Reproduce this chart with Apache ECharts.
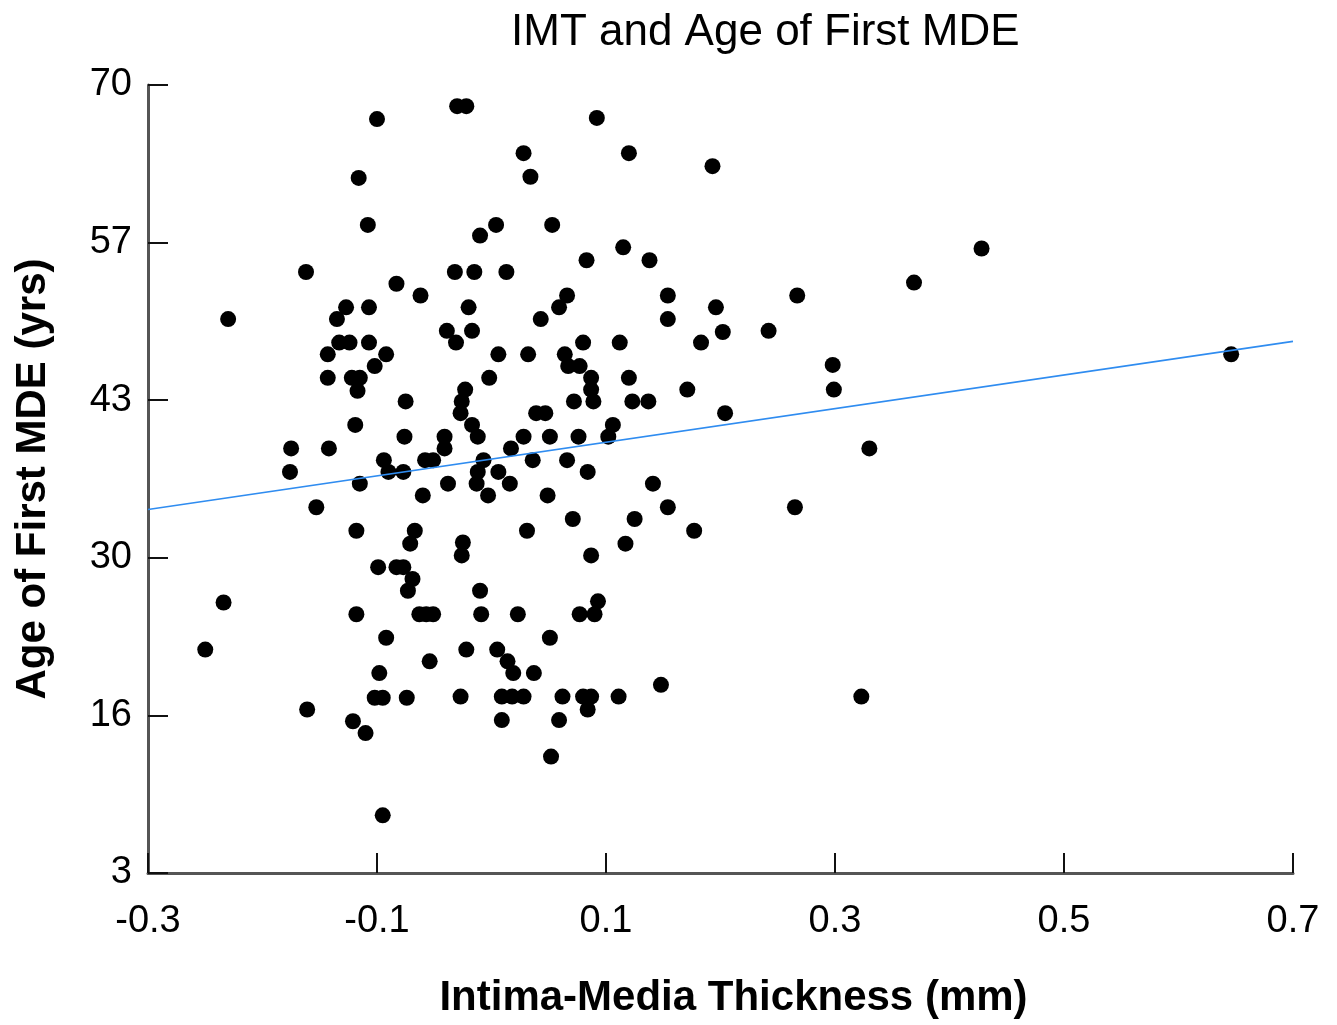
<!DOCTYPE html>
<html>
<head>
<meta charset="utf-8">
<title>IMT and Age of First MDE</title>
<script src="https://cdn.jsdelivr.net/npm/echarts@6/dist/echarts.min.js"></script>
<style>
  html, body { margin: 0; padding: 0; background: #fff; }
  #chart { width: 1337px; height: 1025px; }
</style>
</head>
<body>
<div id="chart"></div>
<script>
// IMT (mm) per subject
var imtX = [
  -0.100, -0.116, -0.108, -0.162, -0.083, -0.062, -0.127, -0.107, -0.230, -0.135,
  -0.030, -0.022, 0.092, 0.028, 0.120, 0.193, 0.034, 0.004, -0.010, 0.053,
  0.083, 0.115, 0.138, -0.032, -0.015, 0.013, 0.066, 0.059, 0.154, -0.020,
  0.043, 0.154, 0.196, -0.133, -0.124, -0.107, -0.143, -0.092, -0.102, -0.143,
  -0.122, -0.115, -0.117, -0.075, -0.119, -0.076, -0.175, -0.142, -0.094, -0.090,
  -0.077, -0.058, -0.051, -0.176, -0.115, -0.060, -0.153, -0.118, -0.067, -0.071,
  -0.099, -0.083, -0.077, -0.069, -0.039, -0.017, 0.202, -0.031, 0.080, 0.112,
  0.183, 0.006, 0.032, 0.064, 0.067, 0.077, -0.002, 0.087, 0.120, -0.023,
  0.087, 0.171, -0.026, 0.072, 0.089, 0.123, 0.137, -0.027, 0.039, 0.047,
  0.204, -0.017, 0.106, -0.041, -0.041, -0.012, 0.028, 0.051, 0.076, 0.102,
  0.017, -0.007, 0.036, 0.066, -0.012, 0.006, 0.084, -0.038, -0.013, 0.016,
  0.141, -0.003, 0.049, 0.154, 0.071, 0.125, 0.177, 0.031, 0.117, -0.025,
  -0.026, 0.087, -0.234, -0.250, -0.161, -0.095, -0.073, -0.118, -0.063, -0.057,
  -0.051, -0.092, -0.054, -0.098, -0.102, -0.095, -0.074, -0.121, -0.110, -0.010,
  -0.009, 0.023, 0.093, 0.090, 0.077, 0.051, -0.022, 0.005, 0.014, 0.019,
  0.037, -0.027, 0.009, 0.018, 0.028, 0.062, 0.080, 0.087, 0.084, 0.111,
  0.148, 0.009, 0.059, 0.052, 0.428, 0.369, 0.267, 0.242, 0.646, 0.298,
  0.299, 0.330, 0.265, 0.323
];
// age of first MDE (yrs), same order
var ageY = [
  67.1, 62.1, 58.1, 54.1, 53.1, 52.1, 51.1, 51.1, 50.1, 50.1,
  68.2, 68.2, 67.2, 64.2, 64.2, 63.1, 62.2, 58.1, 57.2, 58.1,
  55.1, 56.2, 55.1, 54.1, 54.1, 54.1, 52.1, 51.1, 52.1, 51.1,
  50.1, 50.1, 51.1, 48.1, 48.1, 48.1, 47.1, 47.1, 46.1, 45.1,
  45.1, 45.1, 44.0, 43.1, 41.1, 40.1, 39.1, 39.1, 38.1, 37.1,
  37.1, 38.1, 38.1, 37.1, 36.1, 35.1, 34.1, 32.1, 32.1, 31.0,
  29.0, 29.0, 29.0, 28.0, 49.1, 49.1, 49.0, 48.1, 48.1, 48.1,
  48.1, 47.1, 47.1, 47.1, 46.1, 46.1, 45.1, 45.1, 45.1, 44.1,
  44.1, 44.1, 43.1, 43.1, 43.1, 43.1, 43.1, 42.1, 42.1, 42.1,
  42.1, 41.1, 41.1, 40.1, 39.1, 40.1, 40.1, 40.1, 40.1, 40.1,
  39.1, 38.1, 38.1, 38.1, 37.1, 37.1, 37.1, 36.1, 36.1, 36.1,
  36.1, 35.1, 35.1, 34.1, 33.1, 33.1, 32.1, 32.1, 31.0, 31.1,
  30.0, 30.0, 26.0, 22.0, 16.9, 7.9, 27.0, 25.0, 25.0, 25.0,
  25.0, 23.0, 21.0, 20.0, 17.9, 17.9, 17.9, 15.9, 14.9, 27.0,
  25.0, 25.0, 26.1, 25.0, 25.0, 23.0, 22.0, 22.0, 21.0, 20.0,
  20.0, 18.0, 18.0, 18.0, 18.0, 18.0, 18.0, 18.0, 16.9, 18.0,
  19.0, 16.0, 16.0, 12.9, 56.1, 53.2, 52.1, 49.1, 47.1, 46.2,
  44.1, 39.1, 34.1, 18.0
];
// fitted regression line, end points
var fitX = [-0.3, 0.7];
var fitY = [33.9, 48.2];

var xTicks = [-0.3, -0.1, 0.1, 0.3, 0.5, 0.7];
var yTicks = [3, 16.4, 29.8, 43.2, 56.6, 70];
var yTickLabels = ['3', '16', '30', '43', '57', '70'];

var points = [];
for (var i = 0; i < imtX.length; i++) {
  points.push([imtX[i], ageY[i]]);
}
var fitLine = [];
for (var j = 0; j < fitX.length; j++) {
  fitLine.push([fitX[j], fitY[j]]);
}

var font = 'Liberation Sans, Arial, sans-serif';
var chart = echarts.init(document.getElementById('chart'));

var option = {
  backgroundColor: '#fff',
  animation: false,
  title: {
    text: 'IMT and Age of First MDE',
    left: 506,
    top: 6,
    textStyle: { fontFamily: font, fontSize: 44, fontWeight: 'normal', color: '#000' }
  },
  grid: { left: 148, right: 44, top: 85, bottom: 152 },
  xAxis: {
    type: 'value',
    min: -0.3,
    max: 0.7,
    name: 'Intima-Media Thickness (mm)',
    nameLocation: 'middle',
    nameGap: 104,
    nameTextStyle: { fontFamily: font, fontSize: 42, fontWeight: 'bold', color: '#000', padding: [0, 0, 0, 26] },
    axisLine: { onZero: false, lineStyle: { color: '#555', width: 3 } },
    axisTick: { inside: true, length: 20, customValues: xTicks, lineStyle: { color: '#111', width: 2 } },
    axisLabel: {
      customValues: xTicks,
      margin: 30,
      fontFamily: font,
      fontSize: 38,
      color: '#000',
      formatter: function (v) { return v.toFixed(1); }
    },
    splitLine: { show: false }
  },
  yAxis: {
    type: 'value',
    min: 3,
    max: 70,
    name: 'Age of First MDE (yrs)',
    nameLocation: 'middle',
    nameGap: 94,
    nameTextStyle: { fontFamily: font, fontSize: 42, fontWeight: 'bold', color: '#000' },
    axisLine: { show: true, onZero: false, lineStyle: { color: '#555', width: 3 } },
    axisTick: { show: true, inside: true, length: 20, customValues: yTicks, lineStyle: { color: '#111', width: 2 } },
    axisLabel: {
      customValues: yTicks,
      margin: 16,
      fontFamily: font,
      fontSize: 38,
      color: '#000',
      formatter: function (v) {
        var k = yTicks.indexOf(v);
        return k >= 0 ? yTickLabels[k] : String(Math.round(v));
      }
    },
    splitLine: { show: false }
  },
  series: [
    {
      type: 'scatter',
      data: points,
      symbol: 'circle',
      symbolSize: 16,
      itemStyle: { color: '#000', opacity: 1 },
      z: 2
    },
    {
      type: 'line',
      data: fitLine,
      symbol: 'none',
      lineStyle: { color: '#2f8cf0', width: 1.6 },
      z: 3
    }
  ]
};

chart.setOption(option);
</script>
</body>
</html>
